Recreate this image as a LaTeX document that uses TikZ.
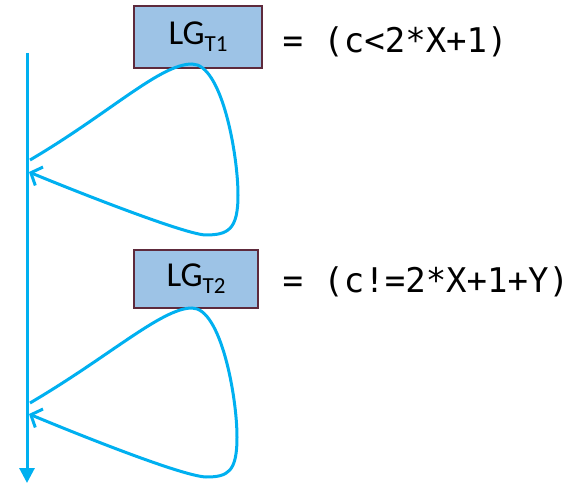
\documentclass[tikz,border=0pt]{standalone}
\usepackage{fontspec}
\setmainfont{Carlito}
\newfontfamily\codefont{DejaVu Sans Mono}
\usetikzlibrary{arrows.meta}
\definecolor{cline}{HTML}{00B0F0}
\definecolor{cfill}{HTML}{9DC3E6}
\definecolor{cframe}{HTML}{5E2A3C}
\tikzset{
  every picture/.style={line width=3pt},
  guard/.style={draw=cframe, fill=cfill, line width=2.6pt, inner sep=0pt, font=\fontsize{35}{35}\selectfont},
  cond/.style={anchor=base west, inner sep=0pt, font=\codefont\fontsize{34}{34}\selectfont},
  flow/.style={draw=cline, -{Triangle[length=15pt,width=15pt]}},
  back/.style={draw=cline, -{Straight Barb[length=9pt,width=20pt]}},
}
\newcommand{\lgsub}[1]{LG\raisebox{-7pt}{\fontsize{23}{23}\selectfont #1}}

\begin{document}
\begin{tikzpicture}[x=1pt, y=1pt]
  \useasboundingbox (0,0) rectangle (576,485);
  % control flow
  \coordinate (start) at (27,432);
  \coordinate (stop) at (27,2);
  \draw[flow] (start) -- (stop);
  % first guard
  \node[guard, minimum width=128pt, minimum height=62pt] (g1) at (198,448) {\lgsub{T1}};
  \node[cond] (c1) at (281,432) {= (c<2*X+1)};
  \coordinate (o1) at (30,325);
  \coordinate (i1) at (29,313);
  \draw[back] (o1) .. controls (110,372) and (160,421) .. (192,421)
    .. controls (222,421) and (238,330) .. (238,290)
    .. controls (238,255) and (228,250) .. (205,250)
    .. controls (180,252) and (60,300) .. (i1);
  % second guard
  \node[guard, minimum width=124pt, minimum height=58pt] (g2) at (196,206) {\lgsub{T2}};
  \node[cond] (c2) at (281,192) {= (c!=2*X+1+Y)};
  \coordinate (o2) at (30,82);
  \coordinate (i2) at (29,71);
  \draw[back] (o2) .. controls (110,129) and (162,177) .. (192,177)
    .. controls (221,177) and (237,88) .. (237,48)
    .. controls (237,13) and (228,8) .. (206,8)
    .. controls (180,9) and (60,58) .. (i2);
\end{tikzpicture}
\end{document}
